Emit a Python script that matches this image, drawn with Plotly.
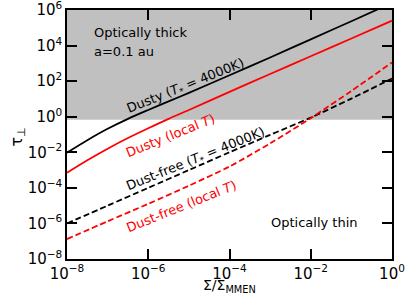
import numpy as np
import plotly.graph_objects as go

# ---- data (log10 values) ----
x_solid_log = [-8, -7.5, -7, -6.5, -6, -5.5, -5, -4, -3, -2, -1, 0]
dusty_star_log = [-2.02, -1.32, -0.68, -0.12, 0.38, 0.86, 1.34, 2.33, 3.33, 4.35, 5.37, 6.4]
dusty_local_log = [-3.15, -2.45, -1.8, -1.2, -0.65, -0.12, 0.38, 1.4, 2.4, 3.4, 4.4, 5.4]

x_dash_log = [-8, -7, -6, -5, -4, -3, -2, -1, 0]
dustfree_star_log = [-6.0, -5.0, -4.0, -3.0, -2.0, -1.02, -0.05, 1.02, 2.15]
dustfree_local_log = [-6.88, -5.88, -4.9, -3.88, -2.8, -1.5, -0.08, 1.45, 3.05]

tau_thick = 2.0 / 3.0
x_range = [1e-8, 1e0]
y_range = [1e-8, 1e6]

x_tick_exp = [-8, -6, -4, -2, 0]
y_tick_exp = [-8, -6, -4, -2, 0, 2, 4, 6]

FONT = "DejaVu Sans"
NB = "\u00a0"

def p10(v):
    return [10.0 ** a for a in v]

def tick_text(e):
    return "10<sup>%s</sup>" % (str(e).replace("-", "\u2212"))

fig = go.Figure()

# optically thick region
fig.add_trace(go.Scatter(
    x=[x_range[0], x_range[1], x_range[1], x_range[0]],
    y=[tau_thick, tau_thick, y_range[1], y_range[1]],
    fill="toself", fillcolor="#c0c0c0", mode="none",
    showlegend=False, hoverinfo="skip"))

lw = 1.8
fig.add_trace(go.Scatter(x=p10(x_solid_log), y=p10(dusty_star_log), mode="lines",
                         line=dict(color="black", width=lw, shape="spline", smoothing=0.8), showlegend=False))
fig.add_trace(go.Scatter(x=p10(x_solid_log), y=p10(dusty_local_log), mode="lines",
                         line=dict(color="red", width=lw, shape="spline", smoothing=0.8), showlegend=False))
fig.add_trace(go.Scatter(x=p10(x_dash_log), y=p10(dustfree_star_log), mode="lines",
                         line=dict(color="black", width=lw, dash="6px,3px", shape="spline", smoothing=0.8), showlegend=False))
fig.add_trace(go.Scatter(x=p10(x_dash_log), y=p10(dustfree_local_log), mode="lines",
                         line=dict(color="red", width=lw, dash="6px,3px", shape="spline", smoothing=0.8), showlegend=False))

ang = -22
def ann(text, x, y, color="black", angle=0, xanchor="center"):
    fig.add_annotation(text=text, x=x, y=y, xref="x", yref="y", showarrow=False,
                       textangle=angle, xanchor=xanchor, yanchor="middle",
                       font=dict(family=FONT, size=13, color=color))

label_x = -6.66
star_txt = "(<i>T</i><sub>*</sub>" + NB + "=" + NB + "4000K)"
ann("Dusty " + star_txt, label_x, 1.72, "black", ang, "left")
ann("Dusty (local <i>T</i>)", label_x, -1.03, "red", ang, "left")
ann("Dust-free " + star_txt, label_x, -2.42, "black", ang, "left")
ann("Dust-free (local <i>T</i>)", label_x, -5.07, "red", ang, "left")
ann("Optically thick", -7.39, 4.74, "black", 0, "left")
ann("a=0.1 au", -7.39, 3.65, "black", 0, "left")
ann("Optically thin", -1.91, -5.96, "black", 0, "center")

# axis titles
fig.add_annotation(text="\u03a3/\u03a3<sub>MMEN</sub>", xref="paper", yref="paper",
                   x=0.5, y=-0.11, xanchor="center", yanchor="middle", showarrow=False,
                   font=dict(family=FONT, size=14, color="black"))
fig.add_annotation(text="\u03c4<sub>\u22a5</sub>", xref="paper", yref="paper",
                   x=-0.152, y=0.49, xanchor="center", yanchor="middle", showarrow=False,
                   textangle=-90, font=dict(family=FONT, size=16, color="black"))

axis_common = dict(type="log", showgrid=False, zeroline=False, automargin=False,
                   showline=True, linecolor="black", linewidth=1.5, mirror="ticks",
                   ticks="inside", ticklen=10, tickwidth=1.5, tickcolor="black",
                   ticklabeloverflow="allow",
                   tickfont=dict(family=FONT, size=15, color="black"))

fig.update_xaxes(range=[np.log10(x_range[0]), np.log10(x_range[1])],
                 tickvals=p10(x_tick_exp), ticktext=[tick_text(e) for e in x_tick_exp],
                 **axis_common)
fig.update_yaxes(range=[np.log10(y_range[0]), np.log10(y_range[1])],
                 tickvals=p10(y_tick_exp), ticktext=[tick_text(e) for e in y_tick_exp],
                 **axis_common)

fig.update_layout(width=415, height=308, margin=dict(l=67, r=23, t=10, b=49),
                  paper_bgcolor="white", plot_bgcolor="white",
                  font=dict(family=FONT, color="black"))

fig.write_html("out.html", config={"displayModeBar": False},
               post_script="document.body.style.margin='0';")
